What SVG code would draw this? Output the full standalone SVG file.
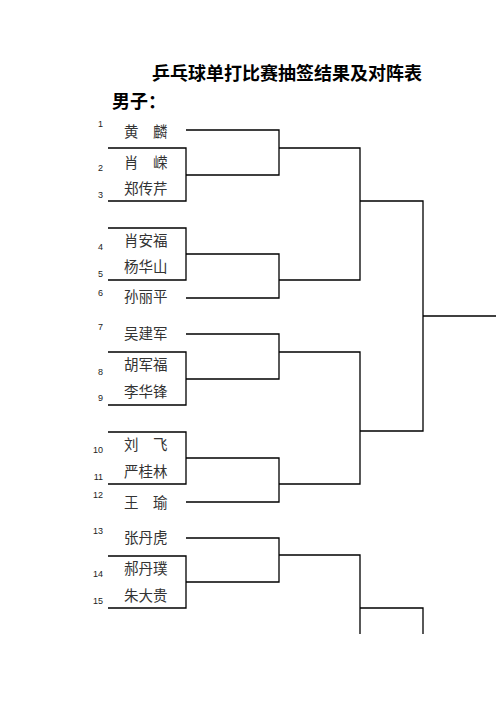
<svg xmlns="http://www.w3.org/2000/svg" width="496" height="702" viewBox="0 0 496 702">
<style>
.t{font-family:"Noto Sans CJK SC","Noto Sans CJK JP",sans-serif;font-weight:bold;fill:#000}
.n{font-family:"Noto Sans CJK SC",sans-serif;font-size:14.5px;fill:#333}
.num{font-family:"Liberation Sans",sans-serif;font-size:9px;fill:#222;text-anchor:end}
.ln{fill:none;stroke:#000;stroke-width:1.3}
</style>
<rect width="496" height="702" fill="#fff"/>
<text class="t" x="152" y="80" font-size="18">乒乓球单打比赛抽签结果及对阵表</text>
<text class="t" x="112" y="108" font-size="18">男子：</text>
<g id="players">
<g id="p1"><text class="num" x="103" y="127">1</text><text class="n" x="124" y="137">黄　麟</text></g>
<g id="p2"><text class="num" x="103" y="171">2</text><text class="n" x="124" y="168">肖　嵘</text></g>
<g id="p3"><text class="num" x="103" y="198">3</text><text class="n" x="124" y="194">郑传芹</text></g>
<g id="p4"><text class="num" x="103" y="250">4</text><text class="n" x="124" y="246">肖安福</text></g>
<g id="p5"><text class="num" x="103" y="277">5</text><text class="n" x="124" y="272">杨华山</text></g>
<g id="p6"><text class="num" x="103" y="296">6</text><text class="n" x="124" y="302">孙丽平</text></g>
<g id="p7"><text class="num" x="103" y="330">7</text><text class="n" x="124" y="339">吴建军</text></g>
<g id="p8"><text class="num" x="103" y="375">8</text><text class="n" x="124" y="370">胡军福</text></g>
<g id="p9"><text class="num" x="103" y="401">9</text><text class="n" x="124" y="397">李华锋</text></g>
<g id="p10"><text class="num" x="103" y="453">10</text><text class="n" x="124" y="450">刘　飞</text></g>
<g id="p11"><text class="num" x="103" y="480">11</text><text class="n" x="124" y="477">严桂林</text></g>
<g id="p12"><text class="num" x="103" y="498">12</text><text class="n" x="124" y="508">王　瑜</text></g>
<g id="p13"><text class="num" x="103" y="534">13</text><text class="n" x="124" y="543">张丹虎</text></g>
<g id="p14"><text class="num" x="103" y="577">14</text><text class="n" x="124" y="574">郝丹璞</text></g>
<g id="p15"><text class="num" x="103" y="604">15</text><text class="n" x="124" y="601">朱大贵</text></g>
</g>
<g id="connectors" class="ln">
<path class="ln" d="M108 148H186V201H108"/>
<path class="ln" d="M108 228H186V280H108"/>
<path class="ln" d="M108 352H186V405H108"/>
<path class="ln" d="M108 432H186V484H108"/>
<path class="ln" d="M108 556H186V608H108"/>
<path class="ln" d="M186 130H279V175H186"/>
<path class="ln" d="M186 254H279V298H186"/>
<path class="ln" d="M186 334H279V379H186"/>
<path class="ln" d="M186 458H279V502H186"/>
<path class="ln" d="M186 538H279V582H186"/>
<path class="ln" d="M279 148H360V280H279"/>
<path class="ln" d="M279 352H360V484H279"/>
<path class="ln" d="M279 555H360V634"/>
<path class="ln" d="M360 201H423V431H360"/>
<path class="ln" d="M360 608H423V634"/>
<path class="ln" d="M423 316H496"/>
</g>
</svg>
